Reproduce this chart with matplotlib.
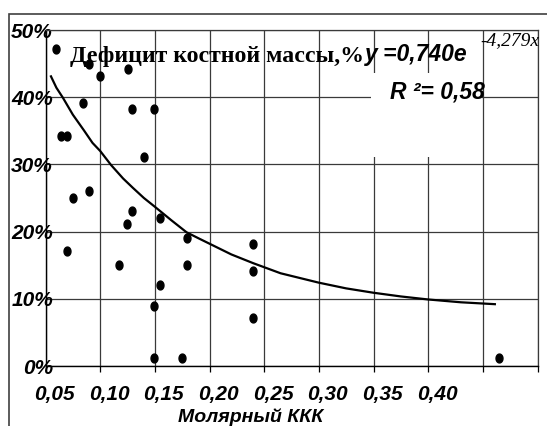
import numpy as np
import matplotlib
matplotlib.use("Agg")
import matplotlib.pyplot as plt
import matplotlib.transforms as mtransforms
from matplotlib.patches import Rectangle
from matplotlib.markers import MarkerStyle
from matplotlib.path import Path

W, H = 547, 426

# --- данные ---
kkk = [0.0593, 0.0898, 0.0996, 0.1252, 0.0846, 0.1294, 0.1492, 0.0642, 0.0697,
       0.1398, 0.0749, 0.0898, 0.1291, 0.1245, 0.1547, 0.0697, 0.1791, 0.1175,
       0.1791, 0.2398, 0.2398, 0.1547, 0.1492, 0.2398, 0.1492, 0.1748, 0.4648]
deficit = [0.471, 0.450, 0.4315, 0.442, 0.391, 0.382, 0.382, 0.342, 0.342,
           0.3115, 0.2495, 0.260, 0.231, 0.212, 0.220, 0.1716, 0.191, 0.1498,
           0.1498, 0.182, 0.1418, 0.120, 0.0897, 0.071, 0.0124, 0.0124, 0.0124]

# линия тренда (точки кривой)
trend_x = [0.055, 0.060, 0.066, 0.075, 0.085, 0.093, 0.100, 0.110, 0.121, 0.130,
           0.140, 0.150, 0.165, 0.179, 0.190, 0.200, 0.220, 0.240, 0.265, 0.280,
           0.300, 0.325, 0.350, 0.375, 0.400, 0.430, 0.461]
trend_y = [0.431, 0.414, 0.399, 0.374, 0.351, 0.332, 0.320, 0.299, 0.279, 0.265,
           0.250, 0.237, 0.217, 0.199, 0.190, 0.182, 0.166, 0.153, 0.138, 0.132,
           0.124, 0.1155, 0.109, 0.1035, 0.099, 0.0948, 0.092]

x_grid = [0.05, 0.10, 0.15, 0.20, 0.25, 0.30, 0.35, 0.40, 0.45, 0.50]
x_labels = ["0,05", "0,10", "0,15", "0,20", "0,25", "0,30", "0,35", "0,40", "", ""]
y_grid = [0.0, 0.1, 0.2, 0.3, 0.4, 0.5]
y_labels = ["0%", "10%", "20%", "30%", "40%", "50%"]


def fpos(x, y):
    # пиксели -> доли фигуры
    return x / W, 1 - y / H


fig = plt.figure(figsize=(W / 100, H / 100), dpi=100)
ax = fig.add_axes([45.5 / W, 1 - 366 / H, 492 / W, 336 / H])

ax.set_xlim(0.05, 0.50)
ax.set_ylim(0, 0.5)
ax.set_axisbelow(True)
ax.grid(True, color='#3a3a3a', lw=0.9)

ax.set_xticks(x_grid)
ax.set_xticklabels(x_labels)
ax.set_yticks(y_grid)
ax.set_yticklabels(y_labels)

lab_font = dict(family='Liberation Sans', weight='bold', style='italic', size=15)
ax.tick_params(axis='x', direction='out', length=4, width=0.9, pad=10)
ax.tick_params(axis='y', length=0, pad=0)
for lb in ax.get_xticklabels():
    lb.set(**lab_font)
    lb.set_transform(lb.get_transform() + mtransforms.ScaledTranslation(9 / 100, 0, fig.dpi_scale_trans))
for lb in ax.get_yticklabels():
    lb.set(**lab_font)
    lb.set_transform(lb.get_transform() + mtransforms.ScaledTranslation(7.5 / 100, 0, fig.dpi_scale_trans))

for side in ['top', 'right']:
    ax.spines[side].set_color('#3a3a3a')
    ax.spines[side].set_linewidth(0.9)
for side in ['left', 'bottom']:
    ax.spines[side].set_color('black')
    ax.spines[side].set_linewidth(1.0)

# белая подложка подписи линии тренда
ax.add_patch(Rectangle((0.3477, 0.311), 0.1016, 0.125, fc='white', ec='none', zorder=2))

ax.plot(trend_x, trend_y, color='black', lw=1.6, zorder=3)

t = np.linspace(0, 2 * np.pi, 41)
dot = MarkerStyle(Path(np.column_stack([0.78 * np.cos(t), np.sin(t)]), closed=True))
ax.plot(kkk, deficit, ls='none', marker=dot, ms=6.4, color='black', zorder=4)

# подписи
fig.text(*fpos(70, 62), "Дефицит костной массы,%", family='Liberation Serif',
         weight='bold', size=17.2, va='baseline', ha='left', zorder=5)
fig.text(*fpos(365, 61), "y =0,740e", family='Liberation Sans', weight='bold',
         style='italic', size=16.5, va='baseline', ha='left', zorder=5)
fig.text(*fpos(480, 45), "-4,279x", family='Liberation Serif', style='italic',
         size=14, va='baseline', ha='left', zorder=5)
fig.text(*fpos(390, 99), "R ²= 0,58", family='Liberation Sans', weight='bold',
         style='italic', size=16.5, va='baseline', ha='left', zorder=5)
fig.text(*fpos(178, 421.7), "Молярный ККК", family='Liberation Sans', weight='bold',
         style='italic', size=14, va='baseline', ha='left', zorder=5)

# рамка диаграммы
fig.add_artist(Rectangle((8.5 / W, -0.1), 1.2, 1.1 - 14 / H, fill=False,
                         ec='#404040', lw=1.2, transform=fig.transFigure))

fig.savefig("out.png", dpi=100)
